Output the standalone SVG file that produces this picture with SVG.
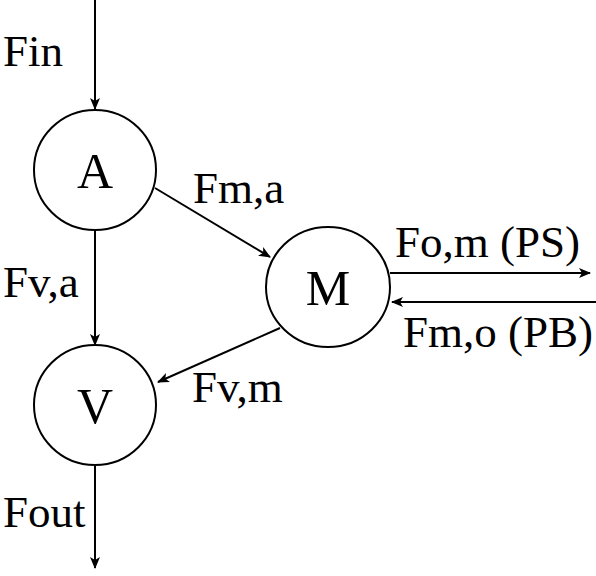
<svg xmlns="http://www.w3.org/2000/svg" width="596" height="576" viewBox="0 0 596 576">
<defs>
<marker id="arr" markerWidth="12" markerHeight="10" refX="11" refY="5" orient="auto" markerUnits="userSpaceOnUse">
<path d="M0,0 L12,5 L0,10 L3,5 Z" fill="#000"/>
</marker>
</defs>
<style>
.node{fill:#fff;stroke:#000;stroke-width:2}
.lbl{font-family:"Liberation Serif","Times New Roman",serif;font-size:45px;fill:#000}
.nl{font-family:"Liberation Serif","Times New Roman",serif;font-size:50px;fill:#000;text-anchor:middle}
.c{stroke:#000;stroke-width:2;fill:none;marker-end:url(#arr)}
</style>
<rect width="596" height="576" fill="#fff"/>
<g id="connectors">
<line class="c" x1="95" y1="0" x2="95" y2="109"/>
<line class="c" x1="95" y1="230" x2="95" y2="345"/>
<line class="c" x1="95" y1="465" x2="95" y2="568"/>
<line class="c" x1="155" y1="188" x2="270" y2="257"/>
<line class="c" x1="280" y1="328" x2="158" y2="382"/>
<line class="c" x1="390" y1="273" x2="590" y2="273"/>
<line class="c" x1="596" y1="302" x2="392" y2="302"/>
</g>
<g id="node-A">
<ellipse class="node" cx="95" cy="170" rx="61" ry="60"/>
<text class="nl" x="95" y="188">A</text>
</g>
<g id="node-M">
<ellipse class="node" cx="328" cy="287" rx="62" ry="60"/>
<text class="nl" x="328" y="305">M</text>
</g>
<g id="node-V">
<ellipse class="node" cx="95" cy="405" rx="61" ry="60"/>
<text class="nl" x="95" y="423">V</text>
</g>
<g id="labels">
<text class="lbl" x="3" y="66">Fin</text>
<text class="lbl" x="193" y="203">Fm,a</text>
<text class="lbl" x="3" y="297">Fv,a</text>
<text class="lbl" x="395" y="257">Fo,m (PS)</text>
<text class="lbl" x="403" y="347">Fm,o (PB)</text>
<text class="lbl" x="192" y="402">Fv,m</text>
<text class="lbl" x="3" y="527">Fout</text>
</g>
</svg>
